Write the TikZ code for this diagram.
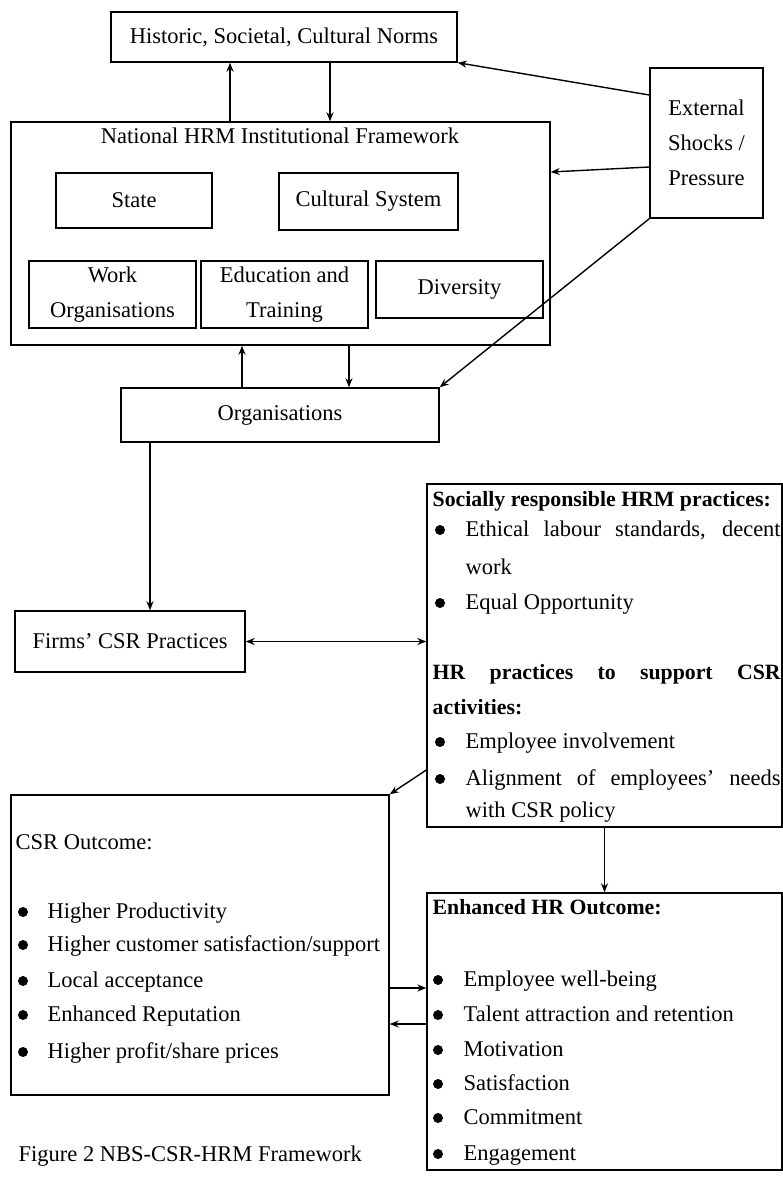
\documentclass[tikz,border=0pt]{standalone}
\usepackage{fontspec}
\setmainfont{Liberation Serif}
\usetikzlibrary{arrows.meta}

\begin{document}
\begin{tikzpicture}[x=1pt,y=-1pt,>={Stealth[length=9pt,width=7pt]},line width=1.4pt,
  font=\fontsize{22.5}{35}\selectfont,
  box/.style={draw,inner sep=0pt,align=center},
  txt/.style={anchor=west,inner sep=0pt,text height=16pt,text depth=4pt},
  hd/.style={txt,font=\fontsize{21.8}{35}\selectfont\bfseries}]
\useasboundingbox (0,0) rectangle (783,1178);
\node[box,minimum width=346pt,minimum height=50pt] (norms) at (284,37) {Historic, Societal, Cultural Norms};
\node[box,minimum width=539pt,minimum height=223pt] (natl) at (280.5,233.5) {};
\node[txt,anchor=center] (natltitle) at (280,137) {National HRM Institutional Framework};
\node[box,minimum width=156pt,minimum height=55pt] (state) at (134,200.5) {State};
\node[box,minimum width=179pt,minimum height=57pt] (cult) at (368.5,201.5) {Cultural System};
\node[box,minimum width=167pt,minimum height=67pt] (work) at (112.5,294.5) {Work\\Organisations};
\node[box,minimum width=167pt,minimum height=67pt] (edu) at (284.5,294.5) {Education and\\Training};
\node[box,minimum width=167pt,minimum height=57pt] (div) at (459.5,289.5) {Diversity};
\node[box,minimum width=113pt,minimum height=150pt] (ext) at (706.5,143) {External\\Shocks /\\Pressure};
\node[box,minimum width=318pt,minimum height=54pt] (orgs) at (280,415) {Organisations};
\node[box,minimum width=230pt,minimum height=61pt] (firms) at (130,641.5) {Firms' CSR Practices};
\node[box,minimum width=355pt,minimum height=343pt] (srhrm) at (604.5,655.5) {};
\node[box,minimum width=378pt,minimum height=300pt] (csrout) at (200,945) {};
\node[box,minimum width=355pt,minimum height=277pt] (hrout) at (604.5,1031.5) {};

\node[hd] (sr1) at (432,500) {Socially responsible HRM practices:};
\node[txt] (sr2) at (465,530) {\makebox[315pt][s]{Ethical labour standards, decent}};
\node[txt] (sr3) at (465,568) {work};
\node[txt] (sr4) at (465,603) {Equal Opportunity};
\node[hd] (sr5) at (432,673) {\makebox[348pt][s]{HR practices to support CSR}};
\node[hd] (sr6) at (432,708) {activities:};
\node[txt] (sr7) at (465,742) {Employee involvement};
\node[txt] (sr8) at (465,779) {\makebox[315pt][s]{Alignment of employees' needs}};
\node[txt] (sr9) at (465,811) {with CSR policy};
\foreach \y in {530,603,742,779}{\fill (440,\y) circle (5pt);}

\node[txt] (co0) at (15,843) {CSR Outcome:};
\foreach \y/\t [count=\i] in {912/Higher Productivity,945/{Higher customer satisfaction/support},
  981/Local acceptance,1015/Enhanced Reputation,1052/{Higher profit/share prices}}{
  \fill (23,\y) circle (5pt);
  \node[txt] (co\i) at (47,\y) {\t};}

\node[hd] (ho0) at (432,908) {Enhanced HR Outcome:};
\foreach \y/\t [count=\i] in {980/Employee well-being,1015/Talent attraction and retention,
  1050/Motivation,1084/Satisfaction,1118/Commitment,1154/Engagement}{
  \fill (438,\y) circle (5pt);
  \node[txt] (ho\i) at (463,\y) {\t};}

\node[txt] (caption) at (18,1155) {Figure 2 NBS-CSR-HRM Framework};

\coordinate (c1) at (230,0);
\coordinate (c2) at (330,0);
\coordinate (c3) at (242,0);
\coordinate (c4) at (349,0);
\coordinate (c5) at (150,0);
\coordinate (r1) at (0,95);
\coordinate (r2) at (0,167);
\coordinate (r3) at (0,172);
\coordinate (r4) at (0,770);
\coordinate (r5) at (0,988);
\coordinate (r6) at (0,1024);
\draw[->] (c1 |- natl.north) -- (c1 |- norms.south);
\draw[->] (c2 |- norms.south) -- (c2 |- natl.north);
\draw[->] (ext.west |- r1) -- (norms.south east);
\draw[->] (ext.west |- r2) -- (natl.east |- r3);
\draw[->] (ext.south west) -- (orgs.north east);
\draw[->] (c3 |- orgs.north) -- (c3 |- natl.south);
\draw[->] (c4 |- natl.south) -- (c4 |- orgs.north);
\draw[->] (c5 |- orgs.south) -- (c5 |- firms.north);
\draw[<->] (firms.east) -- (firms.east -| srhrm.west);
\draw[->] (srhrm.west |- r4) -- (csrout.north east);
\draw[->] (srhrm.south) -- (hrout.north);
\draw[->] (csrout.east |- r5) -- (hrout.west |- r5);
\draw[->] (hrout.west |- r6) -- (csrout.east |- r6);
\end{tikzpicture}
\end{document}
